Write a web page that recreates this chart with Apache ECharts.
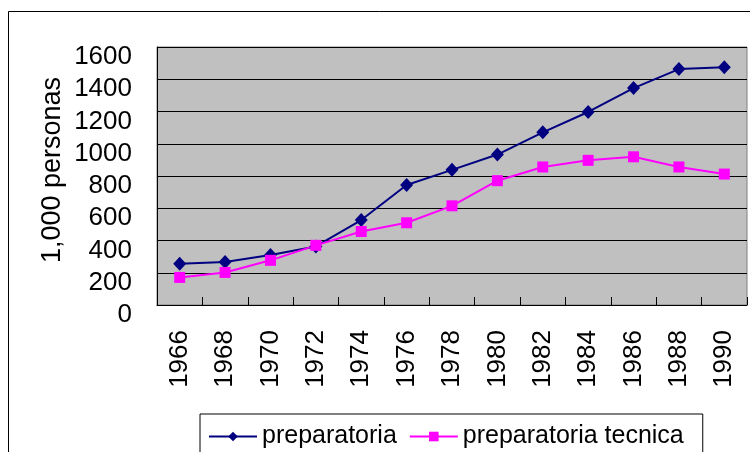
<!DOCTYPE html>
<html>
<head>
<meta charset="utf-8">
<script src="https://cdn.jsdelivr.net/npm/echarts@6/dist/echarts.min.js"></script>
<style>
html,body{margin:0;padding:0;background:#fff;}
#chart{width:750px;height:452px;}
</style>
</head>
<body>
<div id="chart"></div>
<script>
var years = ['1966','1968','1970','1972','1974','1976','1978','1980','1982','1984','1986','1988','1990'];
var preparatoria = [256, 266, 310, 363, 527, 744, 838, 933, 1071, 1197, 1345, 1463, 1474];
var preparatoriaTecnica = [171, 202, 277, 370, 456, 510, 615, 771, 856, 897, 919, 856, 812];
var yTicks = {min: 0, max: 1600, interval: 200};
var yName = '1,000 personas';
var seriesNames = ['preparatoria', 'preparatoria tecnica'];

var font = '"Liberation Sans", Arial, sans-serif';
var chart = echarts.init(document.getElementById('chart'), null, {renderer: 'canvas'});
chart.setOption({
  animation: false,
  backgroundColor: '#fff',
  textStyle: {fontFamily: font},
  graphic: [
    {type: 'rect', silent: true, z: -10,
     shape: {x: 8.5, y: 11.5, width: 800, height: 500},
     style: {fill: '#fff', stroke: '#000', lineWidth: 1}},
    {type: 'text', silent: true, x: 53, y: 170, rotation: Math.PI / 2,
     style: {text: yName, font: '27px ' + font, fill: '#000',
             textAlign: 'center', textVerticalAlign: 'middle'}}
  ],
  grid: {
    left: 157, top: 47, right: 3, bottom: 147,
    show: true, backgroundColor: '#c0c0c0', borderColor: '#808080', borderWidth: 1
  },
  legend: {
    left: 200, top: 414,
    orient: 'horizontal',
    padding: [10, 19, 10, 8],
    borderColor: '#000', borderWidth: 1,
    backgroundColor: '#fff',
    itemWidth: 48, itemHeight: 12, itemGap: 12,
    textStyle: {fontSize: 25, color: '#000', fontFamily: font, padding: [4, 0, 0, 0]},
    data: seriesNames
  },
  xAxis: {
    type: 'category',
    data: years,
    boundaryGap: true,
    axisLine: {lineStyle: {color: '#000', width: 1}},
    axisTick: {show: true, inside: true, length: 8, lineStyle: {color: '#000'}},
    axisLabel: {rotate: 90, margin: 25, fontSize: 26, color: '#000', fontFamily: font, interval: 0},
    splitLine: {show: false}
  },
  yAxis: {
    type: 'value',
    min: yTicks.min, max: yTicks.max, interval: yTicks.interval,
    axisLine: {show: true, lineStyle: {color: '#000', width: 1}},
    axisTick: {show: false},
    axisLabel: {margin: 25, fontSize: 26, color: '#000', fontFamily: font,
                verticalAlign: 'top', lineHeight: 20,
                formatter: function (v) { return String(v); }},
    splitLine: {show: true, lineStyle: {color: '#000', width: 1}}
  },
  series: [
    {
      name: seriesNames[0], type: 'line', data: preparatoria,
      symbol: 'diamond', symbolSize: [13, 14],
      lineStyle: {color: '#000080', width: 2},
      itemStyle: {color: '#000080'}
    },
    {
      name: seriesNames[1], type: 'line', data: preparatoriaTecnica,
      symbol: 'rect', symbolSize: 11,
      lineStyle: {color: '#ff00ff', width: 2},
      itemStyle: {color: '#ff00ff'}
    }
  ]
});
</script>
</body>
</html>
